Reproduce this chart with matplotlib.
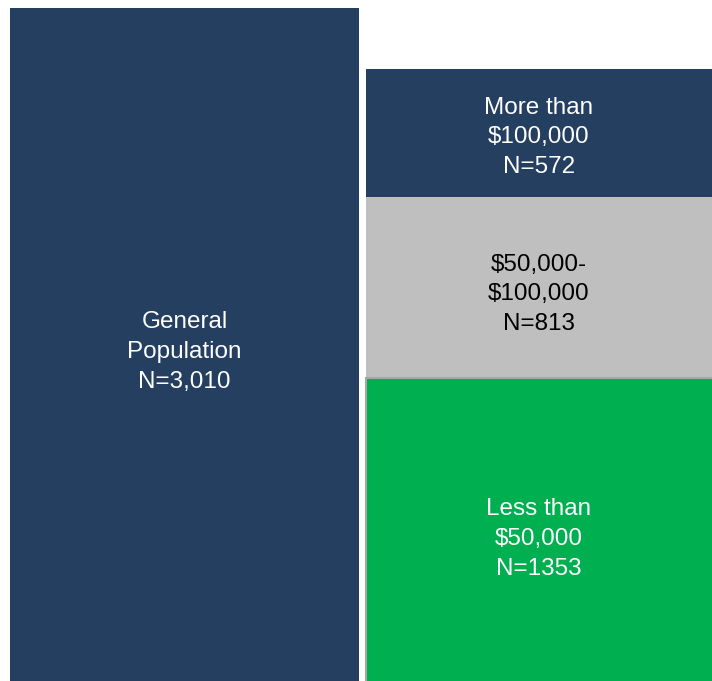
import matplotlib
matplotlib.use("Agg")
import matplotlib.pyplot as plt

plt.rcParams['font.family'] = ['Liberation Sans', 'DejaVu Sans']

# Data
left_label = "General\nPopulation\nN=3,010"
left_value = 3010
segment_labels = ["Less than\n$50,000\nN=1353", "$50,000-\n$100,000\nN=813", "More than\n$100,000\nN=572"]
segment_values = [1353, 813, 572]
segment_colors = ["#00B050", "#BFBFBF", "#243F60"]
segment_text_colors = ["white", "black", "white"]
navy = "#243F60"

# label vertical nudges (data units), styling only
label_nudges = [-42, -30, -21]

fig = plt.figure(figsize=(7.12, 6.81), dpi=100)
ax = fig.add_axes([0, 0, 1, 1])
ax.set_xlim(-0.5205, 1.488)
ax.set_ylim(0, left_value * 681 / 673)
ax.axis('off')

ax.bar(0, left_value, width=0.984, color=navy, linewidth=0)
ax.text(0, left_value / 2 - 34, left_label, ha='center', va='center',
        color='white', fontsize=17.5, linespacing=1.45)

bottom = 0
for lab, v, c, tc, nd in zip(segment_labels, segment_values, segment_colors,
                             segment_text_colors, label_nudges):
    bars = ax.bar(1, v, width=0.976, bottom=bottom, color=c, linewidth=0)
    if c == "#00B050":
        p = bars[0]
        x0, y0 = p.get_x(), p.get_y()
        x1, y1 = x0 + p.get_width(), y0 + p.get_height()
        ax.plot([x0, x0, x1], [y0, y1, y1], color='#A6A6A6', linewidth=1.5,
                solid_joinstyle='miter', clip_on=False)
    ax.text(1, bottom + v / 2 + nd, lab, ha='center', va='center', color=tc,
            fontsize=17.5, linespacing=1.45)
    bottom += v

fig.savefig("out.png", dpi=100)
